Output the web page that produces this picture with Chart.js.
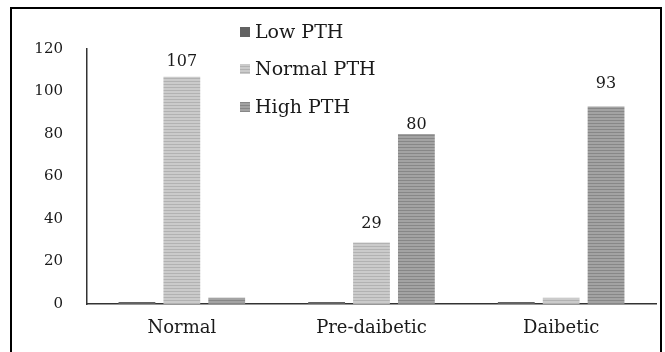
<!DOCTYPE html>
<html>
<head>
<meta charset="utf-8">
<script src="https://cdn.jsdelivr.net/npm/chart.js@4/dist/chart.umd.min.js"></script>
<style>
  html, body { margin: 0; padding: 0; background: #fff; }
  #wrap { position: relative; width: 665px; height: 352px; overflow: hidden; }
  #frame { position: absolute; left: 10px; top: 7px; width: 652px; height: 360px; border: 2px solid #000; box-sizing: border-box; }
  canvas { position: absolute; left: 0; top: 0; }
</style>
</head>
<body>
<div id="wrap">
  <canvas id="c" width="665" height="352"></canvas>
  <div id="frame"></div>
</div>
<script>
const categories = ["Normal", "Pre-daibetic", "Daibetic"];
const seriesNames = ["Low PTH", "Normal PTH", "High PTH"];
const lowPTH = [1, 1, 1];
const normalPTH = [107, 29, 3];
const highPTH = [3, 80, 93];
const yTicks = [0, 20, 40, 60, 80, 100, 120];

const FONT = "'DejaVu Serif', serif";

function stripePattern(base, line, step) {
  const c = document.createElement('canvas');
  c.width = 4; c.height = step;
  const g = c.getContext('2d');
  g.fillStyle = base; g.fillRect(0, 0, 4, step);
  g.fillStyle = line; g.fillRect(0, 0, 4, 1);
  return g.createPattern(c, 'repeat');
}
const ctx = document.getElementById('c').getContext('2d');
const fills = [
  '#626262',
  stripePattern('#cbcbcb', '#b2b2b2', 3),
  stripePattern('#a3a3a3', '#878787', 3)
];

// extra vertical lift (px) for some value labels, as placed in the original
const labelLift = { '1-0': 6, '1-1': 10, '2-1': 0, '2-2': 14 };

const legendPlugin = {
  id: 'customLegend',
  afterDraw(chart) {
    const g = chart.ctx;
    const ys = [32, 69, 107];
    g.save();
    g.font = "19px " + FONT;
    g.textBaseline = 'middle';
    chart.data.datasets.forEach((ds, i) => {
      g.fillStyle = ds.backgroundColor;
      g.fillRect(240, ys[i] - 5, 10, 10);
      g.fillStyle = '#1a1a1a';
      g.fillText(ds.label, 255, ys[i] + 1);
    });
    g.restore();
  }
};

const valuePlugin = {
  id: 'values',
  afterDatasetsDraw(chart) {
    const g = chart.ctx;
    g.save();
    g.font = "16px " + FONT;
    g.fillStyle = '#1a1a1a';
    g.textAlign = 'center';
    g.textBaseline = 'middle';
    chart.data.datasets.forEach((ds, i) => {
      const meta = chart.getDatasetMeta(i);
      meta.data.forEach((bar, j) => {
        const v = ds.data[j];
        if (v >= 10) g.fillText(String(v), bar.x, bar.y - 9 - (labelLift[i + '-' + j] || 0));
      });
    });
    g.restore();
  }
};

new Chart(ctx, {
  type: 'bar',
  data: {
    labels: categories,
    datasets: [
      { label: seriesNames[0], data: lowPTH, backgroundColor: fills[0] },
      { label: seriesNames[1], data: normalPTH, backgroundColor: fills[1] },
      { label: seriesNames[2], data: highPTH, backgroundColor: fills[2] }
    ]
  },
  options: {
    responsive: false,
    animation: false,
    devicePixelRatio: 1,
    categoryPercentage: 0.71,
    barPercentage: 0.82,
    layout: { padding: { left: 20, top: 49, right: 9, bottom: 0 } },
    plugins: { legend: { display: false }, tooltip: { enabled: false } },
    scales: {
      x: {
        grid: { display: false, drawTicks: false },
        border: { display: true, color: '#333', width: 1.5 },
        ticks: { color: '#1a1a1a', font: { family: FONT, size: 18 }, padding: 14 },
        afterFit(s) { s.height = 48; }
      },
      y: {
        min: 0, max: 120,
        afterBuildTicks(s) { s.ticks = yTicks.map(v => ({ value: v })); },
        grid: { display: false, drawTicks: false },
        border: { display: true, color: '#333', width: 1.5 },
        ticks: { color: '#1a1a1a', font: { family: FONT, size: 15 }, padding: 24 },
        afterFit(s) { s.width = 67; }
      }
    }
  },
  plugins: [legendPlugin, valuePlugin]
});
</script>
</body>
</html>
